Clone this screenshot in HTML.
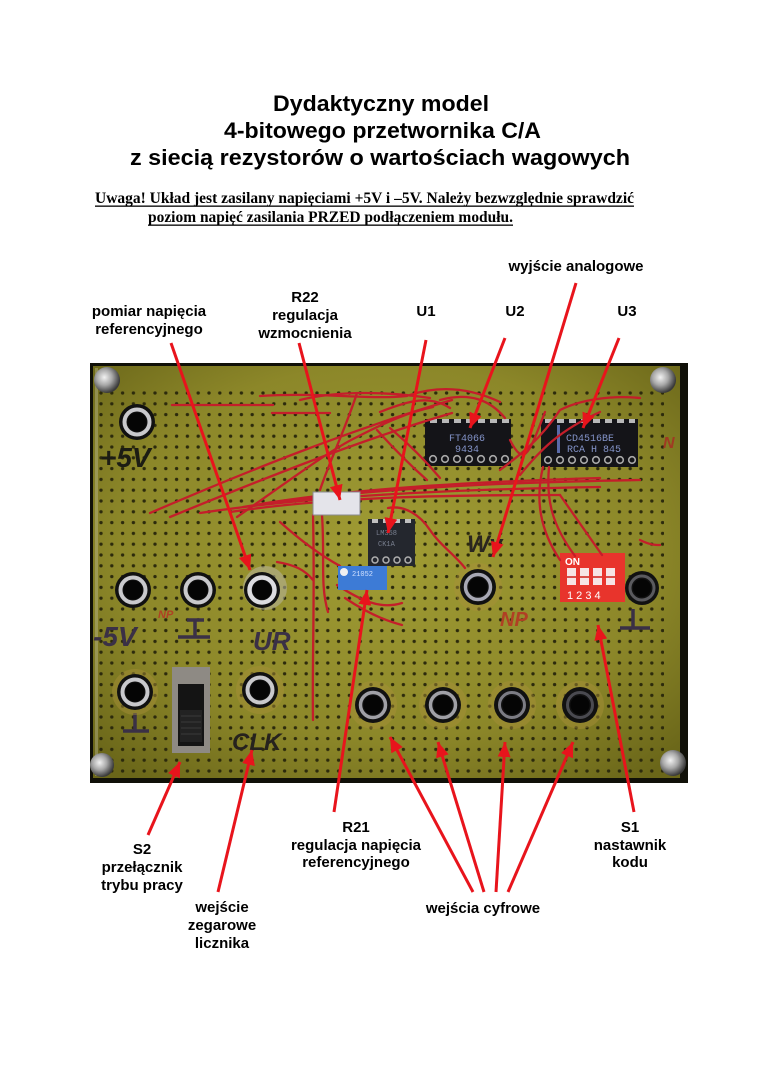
<!DOCTYPE html>
<html><head><meta charset="utf-8">
<style>
html,body{margin:0;padding:0;background:#fff;}
svg{display:block;}
.t{font-family:"Liberation Sans",Arial,sans-serif;font-weight:bold;fill:#000;}
.w{font-family:"Liberation Serif","Times New Roman",serif;font-weight:bold;fill:#000;}
.l{font-family:"Liberation Sans",Arial,sans-serif;font-weight:bold;font-size:15px;fill:#000;text-anchor:middle;}
.hw{font-family:"Liberation Sans",Arial,sans-serif;font-weight:bold;font-style:italic;}
.chip{font-family:"Liberation Mono",monospace;font-size:10px;fill:#8393c8;}
</style></head>
<body>
<svg width="760" height="1075" viewBox="0 0 760 1075" xmlns="http://www.w3.org/2000/svg">
<defs>
  <pattern id="holes" x="98" y="390" width="10.8" height="10.8" patternUnits="userSpaceOnUse">
    <circle cx="3" cy="3" r="1.7" fill="#2c2a0c"/>
  </pattern>
  <radialGradient id="board" cx="50%" cy="45%" r="70%">
    <stop offset="0" stop-color="#a09c34"/>
    <stop offset="0.65" stop-color="#8c8729"/>
    <stop offset="1" stop-color="#6a6619"/>
  </radialGradient>
  <radialGradient id="screw" cx="40%" cy="40%" r="60%">
    <stop offset="0" stop-color="#f2f2f2"/>
    <stop offset="0.5" stop-color="#a8a8a8"/>
    <stop offset="1" stop-color="#3a3a3a"/>
  </radialGradient>
  <marker id="ah" markerUnits="userSpaceOnUse" markerWidth="16" markerHeight="14" refX="15" refY="6.5" orient="auto">
    <path d="M0,0 L15,6.5 L0,13 z" fill="#e8141c"/>
  </marker>
</defs>

<!-- TITLE -->
<text class="t" font-size="22" x="273" y="111" textLength="216" lengthAdjust="spacingAndGlyphs">Dydaktyczny model</text>
<text class="t" font-size="22" x="224" y="138" textLength="317" lengthAdjust="spacingAndGlyphs">4-bitowego przetwornika C/A</text>
<text class="t" font-size="22" x="130" y="165" textLength="500" lengthAdjust="spacingAndGlyphs">z siecią rezystorów o wartościach wagowych</text>

<!-- WARNING -->
<text class="w" font-size="15.3" x="95" y="203" textLength="539" lengthAdjust="spacingAndGlyphs">Uwaga!  Układ jest zasilany napięciami +5V i –5V. Należy bezwzględnie sprawdzić</text>
<rect x="95" y="205.5" width="539" height="1.3" fill="#000"/>
<text class="w" font-size="15.3" x="148" y="222" textLength="365" lengthAdjust="spacingAndGlyphs">poziom napięć zasilania PRZED podłączeniem modułu.</text>
<rect x="148" y="224.5" width="365" height="1.3" fill="#000"/>

<!-- PHOTO -->
<rect x="90" y="363" width="598" height="420" fill="#101008"/>
<rect x="93" y="366" width="587" height="412" fill="url(#board)"/>
<rect x="95" y="368" width="3" height="408" fill="#c8c8b0" opacity="0.35"/>
<rect x="98" y="390" width="566" height="386" fill="url(#holes)"/>

<!-- handwritten marks -->
<text class="hw" x="100" y="467" font-size="28" fill="#1c1c14">+5V</text>
<text class="hw" x="93" y="646" font-size="28" fill="#3a3046">-5V</text>
<g stroke="#3a3046" stroke-width="3.5" fill="none">
  <path d="M187,620 L204,620 M195,620 L195,637 M178,637 L210,637"/>
  <path d="M135,713 L135,730 M123,731 L149,731"/>
  <path d="M633,609 L633,627 M620,628 L650,628"/>
</g>
<text class="hw" x="253" y="650" font-size="26" fill="#3a3046">UR</text>
<text class="hw" x="232" y="750" font-size="24" fill="#26221e">CLK</text>
<text class="hw" x="467" y="552" font-size="24" fill="#2a2620">Wy</text>
<text class="hw" x="500" y="626" font-size="20" fill="#b04024">NP</text>
<text class="hw" x="158" y="618" font-size="11" fill="#b04024">NP</text>
<text class="hw" x="663" y="448" font-size="16" fill="#a03a22">N</text>

<!-- glue halos -->
<g fill="#a8903a" opacity="0.45">
  <circle cx="260" cy="690" r="24"/>
  <circle cx="135" cy="692" r="23"/>
  <circle cx="373" cy="705" r="24"/>
  <circle cx="443" cy="705" r="24"/>
  <circle cx="512" cy="705" r="24"/>
  <circle cx="580" cy="705" r="24"/>
  <circle cx="478" cy="587" r="24"/>
</g>
<circle cx="265" cy="588" r="22" fill="#b8b4a0" opacity="0.55"/>

<!-- screws -->
<circle cx="107" cy="380" r="13" fill="url(#screw)"/>
<circle cx="663" cy="380" r="13" fill="url(#screw)"/>
<circle cx="102" cy="765" r="12" fill="url(#screw)"/>
<circle cx="673" cy="763" r="13" fill="url(#screw)"/>

<!-- chips U2, U3 -->
<g>
  <rect x="425" y="419" width="86" height="47" fill="#141418"/>
  <g fill="#b8b8b8"><rect x="430" y="419" width="7" height="4"/><rect x="442" y="419" width="7" height="4"/><rect x="454" y="419" width="7" height="4"/><rect x="466" y="419" width="7" height="4"/><rect x="478" y="419" width="7" height="4"/><rect x="490" y="419" width="7" height="4"/><rect x="502" y="419" width="7" height="4"/></g>
  <g fill="none" stroke="#a8a8a8" stroke-width="1.6"><circle cx="433" cy="459" r="3.3"/><circle cx="445" cy="459" r="3.3"/><circle cx="457" cy="459" r="3.3"/><circle cx="469" cy="459" r="3.3"/><circle cx="481" cy="459" r="3.3"/><circle cx="493" cy="459" r="3.3"/><circle cx="505" cy="459" r="3.3"/></g>
  <text class="chip" x="449" y="441">FT4066</text>
  <text class="chip" x="455" y="452">9434</text>
</g>
<g>
  <rect x="541" y="419" width="97" height="48" fill="#141418"/>
  <g fill="#b8b8b8"><rect x="545" y="419" width="7" height="4"/><rect x="557" y="419" width="7" height="4"/><rect x="569" y="419" width="7" height="4"/><rect x="581" y="419" width="7" height="4"/><rect x="593" y="419" width="7" height="4"/><rect x="605" y="419" width="7" height="4"/><rect x="617" y="419" width="7" height="4"/><rect x="629" y="419" width="6" height="4"/></g>
  <g fill="none" stroke="#a8a8a8" stroke-width="1.6"><circle cx="548" cy="460" r="3.3"/><circle cx="560" cy="460" r="3.3"/><circle cx="572" cy="460" r="3.3"/><circle cx="584" cy="460" r="3.3"/><circle cx="596" cy="460" r="3.3"/><circle cx="608" cy="460" r="3.3"/><circle cx="620" cy="460" r="3.3"/><circle cx="632" cy="460" r="3.3"/></g>
  <rect x="557" y="425" width="3" height="28" fill="#5a6aa8"/>
  <text class="chip" x="566" y="441">CD4516BE</text>
  <text class="chip" x="567" y="452">RCA H 845</text>
</g>

<!-- DIP switch -->
<rect x="560" y="553" width="65" height="49" fill="#e8342c"/>
<text x="565" y="565" font-family="Liberation Sans,Arial,sans-serif" font-weight="bold" font-size="10" fill="#fff">ON</text>
<g fill="#f6e4e4"><rect x="567" y="568" width="9" height="17"/><rect x="580" y="568" width="9" height="17"/><rect x="593" y="568" width="9" height="17"/><rect x="606" y="568" width="9" height="17"/></g>
<g fill="#d8504a"><rect x="567" y="576" width="9" height="2"/><rect x="580" y="576" width="9" height="2"/><rect x="593" y="576" width="9" height="2"/><rect x="606" y="576" width="9" height="2"/></g>
<text x="567" y="599" font-family="Liberation Sans,Arial,sans-serif" font-size="11" fill="#fff">1 2 3 4</text>

<!-- S2 switch -->
<rect x="172" y="667" width="38" height="86" fill="#8e8a84"/>
<rect x="178" y="684" width="26" height="62" fill="#141414"/>
<rect x="180" y="710" width="22" height="32" fill="#222"/>
<g stroke="#3a3a3a" stroke-width="1"><path d="M181,716 H201 M181,722 H201 M181,728 H201 M181,734 H201"/></g>

<!-- red wires -->
<g fill="none" stroke="#c41e2a" stroke-width="2.3" stroke-linecap="round">
  <path d="M172,405 L273,405"/>
  <path d="M272,413 L330,413"/>
  <path d="M260,396 C320,392 370,400 407,396"/>
  <path d="M300,400 C340,390 390,392 430,398"/>
  <path d="M150,513 C250,470 350,430 452,400"/>
  <path d="M170,517 C260,480 360,440 452,413"/>
  <path d="M237,517 C290,480 330,450 357,437 C390,420 410,412 433,407"/>
  <path d="M357,393 C345,430 330,460 320,490"/>
  <path d="M377,430 C395,450 410,465 427,480"/>
  <path d="M390,428 C410,445 425,460 440,478"/>
  <path d="M200,513 C300,498 420,490 600,487"/>
  <path d="M230,512 C330,497 440,495 560,495"/>
  <path d="M243,507 C340,492 460,483 640,480"/>
  <path d="M260,504 C360,488 470,482 600,478"/>
  <path d="M380,412 C410,400 430,395 450,408"/>
  <path d="M410,395 C440,385 470,388 500,402"/>
  <path d="M440,400 C470,392 490,400 505,418"/>
  <path d="M510,440 C525,470 530,450 545,412"/>
  <path d="M500,470 C520,455 540,440 560,410 C580,400 610,395 640,398"/>
  <path d="M520,475 C540,450 560,430 600,412"/>
  <path d="M543,467 C535,500 540,530 560,560"/>
  <path d="M549,467 C546,500 552,525 575,556"/>
  <path d="M560,495 L602,555"/>
  <path d="M313,515 C315,600 312,660 313,720"/>
  <path d="M322,515 C325,560 320,585 328,612"/>
  <path d="M277,562 C295,565 305,570 313,580"/>
  <path d="M388,508 C405,505 420,515 430,530 C440,545 455,555 465,568"/>
  <path d="M337,585 C360,600 380,610 402,603"/>
  <path d="M345,598 C370,615 390,622 402,625"/>
  <path d="M280,522 C300,540 320,555 340,566"/>
  <path d="M640,540 C650,545 655,545 660,545"/>
</g>

<!-- parts above wires -->
<rect x="313" y="492" width="47" height="23" fill="#e4e4ea" stroke="#8a8a90" stroke-width="1"/>
<g>
  <rect x="368" y="519" width="47" height="47" fill="#24272e"/>
  <g fill="#c0c0c0"><rect x="372" y="519" width="6" height="4"/><rect x="383" y="519" width="6" height="4"/><rect x="394" y="519" width="6" height="4"/><rect x="405" y="519" width="6" height="4"/></g>
  <g fill="none" stroke="#b0b0b0" stroke-width="1.5"><circle cx="375" cy="560" r="3"/><circle cx="386" cy="560" r="3"/><circle cx="397" cy="560" r="3"/><circle cx="408" cy="560" r="3"/></g>
  <text x="376" y="535" font-family="Liberation Mono,monospace" font-size="7" fill="#7a8090">LM358</text>
  <text x="378" y="546" font-family="Liberation Mono,monospace" font-size="7" fill="#7a8090">CK1A</text>
</g>
<rect x="338" y="566" width="49" height="24" fill="#3d7bd6"/>
<circle cx="344" cy="572" r="4" fill="#f0f0f0"/>
<text x="352" y="576" font-family="Liberation Mono,monospace" font-size="7" fill="#d0e0ff">21052</text>

<!-- jacks -->
<g>
  <g transform="translate(137,422)"><circle r="18" fill="#111"/><circle r="12.5" fill="none" stroke="#c9c9cc" stroke-width="4"/><circle r="9.5" fill="#050505"/></g>
  <g transform="translate(133,590)"><circle r="18" fill="#111"/><circle r="12.5" fill="none" stroke="#c9c9cc" stroke-width="4"/><circle r="9.5" fill="#050505"/></g>
  <g transform="translate(198,590)"><circle r="18" fill="#111"/><circle r="12.5" fill="none" stroke="#c9c9cc" stroke-width="4"/><circle r="9.5" fill="#050505"/></g>
  <g transform="translate(262,590)"><circle r="18" fill="#111"/><circle r="12.5" fill="none" stroke="#dcdce0" stroke-width="4.5"/><circle r="9.5" fill="#050505"/></g>
  <g transform="translate(135,692)"><circle r="18" fill="#111"/><circle r="12.5" fill="none" stroke="#c9c9cc" stroke-width="4"/><circle r="9.5" fill="#050505"/></g>
  <g transform="translate(260,690)"><circle r="18" fill="#111"/><circle r="12.5" fill="none" stroke="#c9c9cc" stroke-width="4"/><circle r="9.5" fill="#050505"/></g>
  <g transform="translate(478,587)"><circle r="18" fill="#111"/><circle r="12.5" fill="none" stroke="#a8a8b4" stroke-width="3.5"/><circle r="9.5" fill="#050505"/></g>
  <g transform="translate(642,588)"><circle r="17" fill="#111"/><circle r="12" fill="none" stroke="#5a5a5e" stroke-width="3"/><circle r="9" fill="#050505"/></g>
  <g transform="translate(373,705)"><circle r="18" fill="#111"/><circle r="12.5" fill="none" stroke="#a0a0a6" stroke-width="3.5"/><circle r="9.5" fill="#050505"/></g>
  <g transform="translate(443,705)"><circle r="18" fill="#111"/><circle r="12.5" fill="none" stroke="#a0a0a6" stroke-width="3.5"/><circle r="9.5" fill="#050505"/></g>
  <g transform="translate(512,705)"><circle r="18" fill="#111"/><circle r="12.5" fill="none" stroke="#7c7c84" stroke-width="3"/><circle r="9.5" fill="#050505"/></g>
  <g transform="translate(580,705)"><circle r="18" fill="#111"/><circle r="12.5" fill="none" stroke="#4a4a50" stroke-width="3"/><circle r="9.5" fill="#050505"/></g>
</g>

<!-- ARROWS -->
<g stroke="#e8141c" stroke-width="3" fill="none" marker-end="url(#ah)">
  <line x1="171" y1="343" x2="250" y2="570"/>
  <line x1="299" y1="343" x2="340" y2="500"/>
  <line x1="426" y1="340" x2="388" y2="533"/>
  <line x1="505" y1="338" x2="470" y2="428"/>
  <line x1="576" y1="283" x2="493" y2="557"/>
  <line x1="619" y1="338" x2="583" y2="428"/>
  <line x1="148" y1="835" x2="180" y2="762"/>
  <line x1="218" y1="892" x2="252" y2="750"/>
  <line x1="334" y1="812" x2="367" y2="590"/>
  <line x1="473" y1="892" x2="390" y2="737"/>
  <line x1="484" y1="892" x2="438" y2="742"/>
  <line x1="496" y1="892" x2="505" y2="742"/>
  <line x1="508" y1="892" x2="573" y2="742"/>
  <line x1="634" y1="812" x2="598" y2="625"/>
</g>

<!-- LABELS -->
<text class="l" x="149" y="316">pomiar napięcia</text>
<text class="l" x="149" y="334">referencyjnego</text>
<text class="l" x="305" y="302">R22</text>
<text class="l" x="305" y="320">regulacja</text>
<text class="l" x="305" y="338">wzmocnienia</text>
<text class="l" x="426" y="316">U1</text>
<text class="l" x="515" y="316">U2</text>
<text class="l" x="627" y="316">U3</text>
<text class="l" x="576" y="271">wyjście analogowe</text>

<text class="l" x="142" y="854">S2</text>
<text class="l" x="142" y="872">przełącznik</text>
<text class="l" x="142" y="890">trybu pracy</text>
<text class="l" x="222" y="912">wejście</text>
<text class="l" x="222" y="930">zegarowe</text>
<text class="l" x="222" y="948">licznika</text>
<text class="l" x="356" y="832">R21</text>
<text class="l" x="356" y="850">regulacja napięcia</text>
<text class="l" x="356" y="867">referencyjnego</text>
<text class="l" x="483" y="913">wejścia cyfrowe</text>
<text class="l" x="630" y="832">S1</text>
<text class="l" x="630" y="850">nastawnik</text>
<text class="l" x="630" y="867">kodu</text>
</svg>
</body></html>
